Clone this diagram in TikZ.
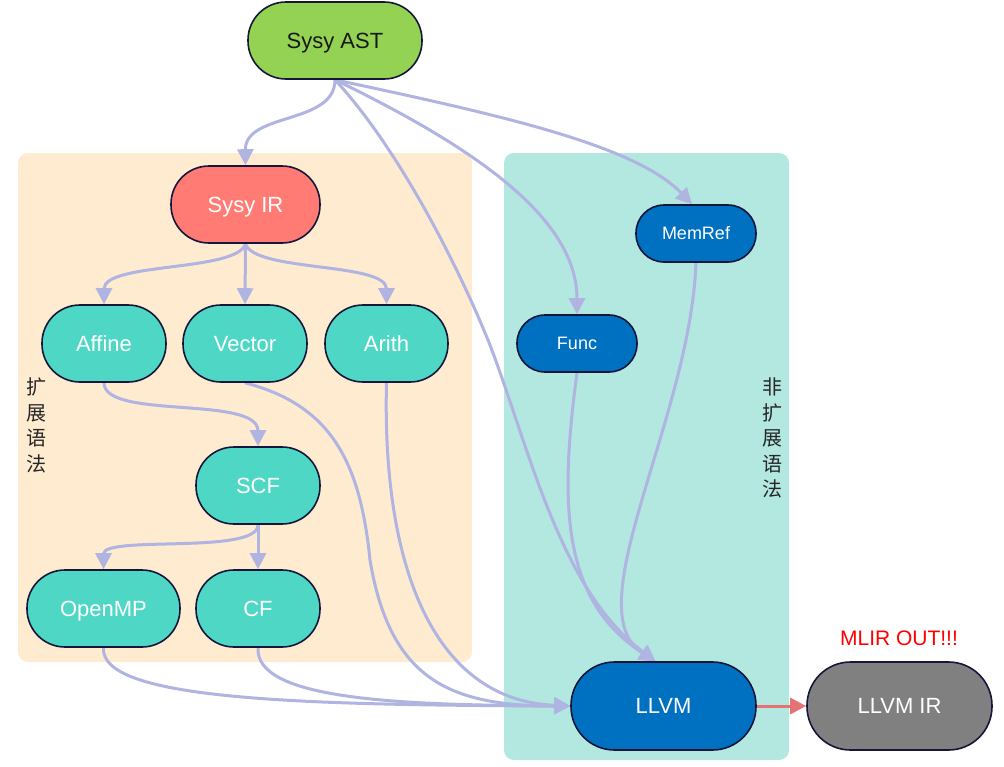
\documentclass[tikz,border=0pt]{standalone}
\usepackage{fontspec}
\setmainfont{Liberation Sans}
\newfontfamily\cjk{Noto Sans CJK SC}
\usetikzlibrary{arrows.meta}
\definecolor{astgreen}{RGB}{147,210,82}
\definecolor{irsalmon}{RGB}{255,123,116}
\definecolor{tealnode}{RGB}{79,215,197}
\definecolor{bluenode}{RGB}{0,112,192}
\definecolor{greynode}{RGB}{128,128,128}
\definecolor{orangebg}{RGB}{255,235,208}
\definecolor{tealbg}{RGB}{178,232,224}
\definecolor{edgec}{RGB}{176,180,224}
\definecolor{redarrow}{RGB}{229,115,115}
\definecolor{navy}{RGB}{22,22,58}
\pgfdeclarelayer{bg}
\pgfdeclarelayer{edges}
\pgfsetlayers{bg,edges,main}
\begin{document}
\begin{tikzpicture}[x=1pt,y=-1pt,
  pill/.style={draw=navy, line width=1.6pt, minimum height=77pt, rounded corners=38pt,
    inner sep=0pt, text height=15.8pt, text depth=0pt,
    font=\fontsize{22}{26}\selectfont, text=white},
  smallpill/.style={pill, minimum height=57pt, rounded corners=28pt,
    text height=12.9pt, font=\fontsize{18}{22}\selectfont},
  bigpill/.style={pill, minimum height=88pt, rounded corners=43.5pt},
  flow/.style={draw=edgec, line width=3pt, -{Triangle[length=16pt,width=16pt]}},
  outflow/.style={draw=redarrow, line width=3pt, -{Triangle[length=16pt,width=16pt]}},
  vlabel/.style={align=center, inner sep=0pt, text=black!85, font=\cjk\fontsize{20}{25.5}\selectfont},
  region/.style={rounded corners=10pt}
]
\useasboundingbox (0,0) rectangle (1004,766);

% nodes
\node[pill, fill=astgreen, text=black!90, minimum width=174pt] (ast) at (335,40.5) {Sysy AST};
\node[pill, fill=irsalmon, minimum width=149pt] (ir) at (245.5,204.5) {Sysy IR};
\node[pill, fill=tealnode, minimum width=124pt] (affine) at (104,343.5) {Affine};
\node[pill, fill=tealnode, minimum width=124pt] (vector) at (245,343.5) {Vector};
\node[pill, fill=tealnode, minimum width=123pt] (arith) at (386.5,343.5) {Arith};
\node[pill, fill=tealnode, minimum width=124pt] (scf) at (258,485.5) {SCF};
\node[pill, fill=tealnode, minimum width=153pt] (openmp) at (103.5,608.5) {OpenMP};
\node[pill, fill=tealnode, minimum width=124pt] (cf) at (258,608.5) {CF};
\node[smallpill, fill=bluenode, minimum width=120pt] (memref) at (696,233.5) {MemRef};
\node[smallpill, fill=bluenode, minimum width=120pt] (func) at (577,343.5) {Func};
\node[bigpill, fill=bluenode, minimum width=185pt] (llvm) at (663.5,706) {LLVM};
\node[bigpill, fill=greynode, minimum width=185pt] (llvmir) at (899.5,706) {LLVM IR};
\node[text=red, font=\fontsize{21}{25}\selectfont, inner sep=0pt] (out) at (899,638) {MLIR OUT!!!};
\node[vlabel] (extlabel) at (36,425.5) {扩\\展\\语\\法};
\node[vlabel] (nonextlabel) at (772,438) {非\\扩\\展\\语\\法};

\begin{pgfonlayer}{bg}
  \fill[orangebg, region] (18,153) rectangle (472,662);
  \fill[tealbg, region] (504,153) rectangle (789,760);
\end{pgfonlayer}

\begin{pgfonlayer}{edges}
  % from Sysy AST
  \draw[flow] (ast.south) .. controls (335,125) and (245,112) .. (ir.north);
  \draw[flow] (ast.south) .. controls (400,150) and (460,270) .. (490,345)
                          .. controls (530,450) and (560,590) .. ([xshift=-8pt]llvm.north);
  \draw[flow] (ast.south) .. controls (480,150) and (577,220) .. (func.north);
  \draw[flow] (ast.south) .. controls (500,115) and (635,145) .. ([xshift=-4pt]memref.north);
  % from Sysy IR
  \draw[flow] (ir.south) .. controls (237,272) and (104,262) .. (affine.north);
  \draw[flow] (ir.south) -- (vector.north);
  \draw[flow] (ir.south) .. controls (254,272) and (386.5,262) .. (arith.north);
  % extension dialects
  \draw[flow] (affine.south) .. controls (104,420) and (258,395) .. (scf.north);
  \draw[flow] (scf.south) .. controls (258,555) and (103.5,535) .. (openmp.north);
  \draw[flow] (scf.south) -- (cf.north);
  \draw[flow] (openmp.south) .. controls (100,700) and (300,705) .. (llvm.west);
  \draw[flow] (cf.south) .. controls (255,700) and (400,705) .. (llvm.west);
  \draw[flow] (vector.south) .. controls (330,405) and (360,460) .. (370,560)
                             .. controls (390,680) and (450,706) .. (llvm.west);
  \draw[flow] (arith.south) .. controls (382,560) and (430,700) .. (llvm.west);
  % non-extension dialects
  \draw[flow] (func.south) .. controls (560,500) and (560,600) .. ([xshift=-8pt]llvm.north);
  \draw[flow] (memref.south) .. controls (690,420) and (575,610) .. ([xshift=-8pt]llvm.north);
  % output
  \draw[outflow] (llvm.east) -- (llvmir.west);
\end{pgfonlayer}
\end{tikzpicture}
\end{document}
